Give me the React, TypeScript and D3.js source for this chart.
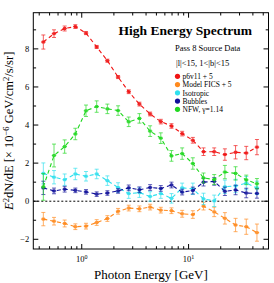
import React from 'react';
import * as d3 from 'd3';

const energies = [0.437, 0.55, 0.692, 0.871, 1.096, 1.38, 1.738, 2.188, 2.754, 3.467, 4.365, 5.495, 6.918, 8.71, 10.96, 13.8, 17.38, 21.88, 27.54, 34.67, 43.65];

const p6v11 = [8.36, 8.8, 9.07, 9.17, 8.83, 8.1, 7.38, 6.52, 5.75, 5.1, 4.58, 4.18, 3.95, 3.55, 3.2, 2.6, 2.6, 2.45, 2.57, 2.53, 2.84];
const p6v11Err = [0.37, 0.2, 0.13, 0.1, 0.08, 0.08, 0.08, 0.08, 0.1, 0.1, 0.1, 0.12, 0.12, 0.12, 0.15, 0.2, 0.2, 0.3, 0.35, 0.35, 0.4];

const fics = [-0.94, -1.05, -1.17, -1.34, -1.31, -1.12, -0.91, -0.53, -0.36, -0.4, -0.31, -0.47, -0.5, -0.66, -0.7, -0.26, -0.56, -0.9, -1.25, -1.34, -1.65];
const ficsErr = [0.35, 0.2, 0.18, 0.15, 0.15, 0.15, 0.15, 0.15, 0.15, 0.15, 0.15, 0.15, 0.15, 0.18, 0.2, 0.2, 0.25, 0.3, 0.35, 0.4, 0.45];

const isotropic = [1.46, 1.26, 1.13, 1.43, 1.31, 1.43, 1.08, 0.72, 0.4, 0.45, 0.25, 0.4, 0.15, 0.7, 0.65, 0.12, 0.02, 0.76, 0.8, 0.95, 0.7];
const isotropicErr = [0.55, 0.35, 0.3, 0.3, 0.25, 0.25, 0.25, 0.25, 0.25, 0.25, 0.25, 0.25, 0.25, 0.25, 0.3, 0.3, 0.3, 0.35, 0.35, 0.35, 0.35];

const bubbles = [0.7, 0.54, 0.63, 0.57, 0.49, 0.37, 0.43, 0.54, 0.7, 0.6, 0.72, 0.67, 0.85, 0.48, 0.56, 1.0, 1.04, 0.52, 0.59, 0.43, 0.41];
const bubblesErr = [0.35, 0.15, 0.15, 0.12, 0.12, 0.12, 0.12, 0.12, 0.15, 0.15, 0.15, 0.15, 0.15, 0.15, 0.18, 0.2, 0.2, 0.22, 0.25, 0.25, 0.25];

const nfw = [0.75, 2.4, 2.87, 3.53, 4.75, 4.97, 4.85, 4.76, 4.17, 4.35, 3.68, 3.31, 2.38, 2.5, 1.98, 1.22, 1.14, 1.53, 1.46, 1.12, 0.92];
const nfwErr = [0.7, 0.6, 0.35, 0.3, 0.3, 0.3, 0.25, 0.25, 0.25, 0.25, 0.28, 0.28, 0.28, 0.3, 0.3, 0.26, 0.26, 0.35, 0.35, 0.25, 0.27];

const legendLabels = ['p6v11 + 5', 'Model FICS + 5', 'Isotropic', 'Bubbles', 'NFW, \u03b3=1.14'];
const yTickValues = [-2, 0, 2, 4, 6, 8];
const yMinorValues = [-1, 1, 3, 5, 7, 9];
const xMajorValues = [1, 10];
const xMinorValues = [0.4, 0.5, 0.6, 0.7, 0.8, 0.9, 2, 3, 4, 5, 6, 7, 8, 9, 20, 30, 40, 50];

const series = [
  { vals: p6v11, errs: p6v11Err, color: '#f01414' },
  { vals: fics, errs: ficsErr, color: '#ff8a1e' },
  { vals: isotropic, errs: isotropicErr, color: '#2ee0ee' },
  { vals: bubbles, errs: bubblesErr, color: '#10109a' },
  { vals: nfw, errs: nfwErr, color: '#20d820' },
];

const FONT = '"Liberation Serif", "DejaVu Serif", serif';

export default function App() {
  const W = 274, H = 283;
  const L = 33.3, R = 268.5, T = 12.7, B = 249;
  const x = d3.scaleLog().domain([0.352, 56]).range([L, R]);
  const y = d3.scaleLinear().domain([-2.51, 9.9]).range([B, T]);
  const line = d3.line<number>().x((_, i) => x(energies[i])).y((d) => y(d));

  return (
    <svg width={W} height={H} style={{ position: 'absolute', left: 0, top: 0, background: '#fff' }} fontFamily={FONT}>
      <defs>
        <clipPath id="plotclip">
          <rect x={L} y={T} width={R - L} height={B - T} />
        </clipPath>
      </defs>
      {/* zero line */}
      <line x1={L} x2={R} y1={y(0)} y2={y(0)} stroke="#000" strokeWidth={1} strokeDasharray="2,2" />
      <g clipPath="url(#plotclip)">
        {series.map((s, si) => (
          <g key={si}>
            <path d={line(s.vals) || ''} fill="none" stroke={s.color} strokeWidth={1.1} strokeDasharray="4,3" />
            {s.vals.map((v, i) => {
              const cx = x(energies[i]);
              const e = s.errs[i];
              return (
                <g key={i} stroke={s.color} strokeWidth={1} opacity={0.9}>
                  <line x1={cx} x2={cx} y1={y(v - e)} y2={y(v + e)} strokeOpacity={0.75} />
                  <line x1={cx - 2} x2={cx + 2} y1={y(v - e)} y2={y(v - e)} strokeOpacity={0.75} />
                  <line x1={cx - 2} x2={cx + 2} y1={y(v + e)} y2={y(v + e)} strokeOpacity={0.75} />
                  <line x1={cx - 2.2} x2={cx + 2.2} y1={y(v)} y2={y(v)} strokeWidth={1.2} />
                  <rect x={cx - 1.5} y={y(v) - 1.5} width={3} height={3} fill={s.color} stroke="none" />
                </g>
              );
            })}
          </g>
        ))}
      </g>
      {/* frame */}
      <rect x={L} y={T} width={R - L} height={B - T} fill="none" stroke="#000" strokeWidth={1} />
      {/* y ticks */}
      {yTickValues.map((t) => (
        <g key={'yt' + t}>
          <line x1={L} x2={L + 5} y1={y(t)} y2={y(t)} stroke="#000" />
          <line x1={R} x2={R - 5} y1={y(t)} y2={y(t)} stroke="#000" />
          <text x={L - 4} y={y(t) + 3} fontSize={8.5} textAnchor="end">{t < 0 ? '\u2212' + Math.abs(t) : t}</text>
        </g>
      ))}
      {yMinorValues.map((t) => (
        <g key={'ym' + t}>
          <line x1={L} x2={L + 2.8} y1={y(t)} y2={y(t)} stroke="#000" />
          <line x1={R} x2={R - 2.8} y1={y(t)} y2={y(t)} stroke="#000" />
        </g>
      ))}
      {/* x ticks */}
      {xMajorValues.map((t, i) => (
        <g key={'xt' + t}>
          <line x1={x(t)} x2={x(t)} y1={B} y2={B - 5} stroke="#000" />
          <line x1={x(t)} x2={x(t)} y1={T} y2={T + 5} stroke="#000" />
          <text x={x(t)} y={B + 13} fontSize={8.5} textAnchor="middle">
            10<tspan dy={-3.5} fontSize={6}>{i}</tspan>
          </text>
        </g>
      ))}
      {xMinorValues.map((t) => (
        <g key={'xm' + t}>
          <line x1={x(t)} x2={x(t)} y1={B} y2={B - 2.8} stroke="#000" />
          <line x1={x(t)} x2={x(t)} y1={T} y2={T + 2.8} stroke="#000" />
        </g>
      ))}
      {/* axis labels */}
      <text x={(L + R) / 2} y={279} fontSize={13} textAnchor="middle">Photon Energy [GeV]</text>
      <text transform={`translate(12.5, ${(T + B) / 2}) rotate(-90)`} fontSize={12.5} textAnchor="middle">
        <tspan fontStyle="italic">E</tspan>
        <tspan dy={-4} fontSize={8.5}>2</tspan>
        <tspan dy={4}>dN/dE [{'\u00d7'} 10</tspan>
        <tspan dy={-4} fontSize={8.5}>{'\u22126'}</tspan>
        <tspan dy={4}> GeV/cm</tspan>
        <tspan dy={-4} fontSize={8.5}>2</tspan>
        <tspan dy={4}>/s/sr]</tspan>
      </text>
      {/* title & annotations */}
      <text x={252} y={35} fontSize={13.5} fontWeight="bold" textAnchor="end">High Energy Spectrum</text>
      <text x={175} y={51} fontSize={8.5}>Pass 8 Source Data</text>
      <text x={176} y={65.5} fontSize={8.5}>|l|&lt;15, 1&lt;|b|&lt;15</text>
      {legendLabels.map((lab, i) => (
        <g key={lab}>
          <circle cx={177.5} cy={76.3 + i * 8.25} r={2.6} fill={series[i].color} />
          <text x={182.5} y={76.3 + i * 8.25 + 2.7} fontSize={7.5}>{lab}</text>
        </g>
      ))}
    </svg>
  );
}
